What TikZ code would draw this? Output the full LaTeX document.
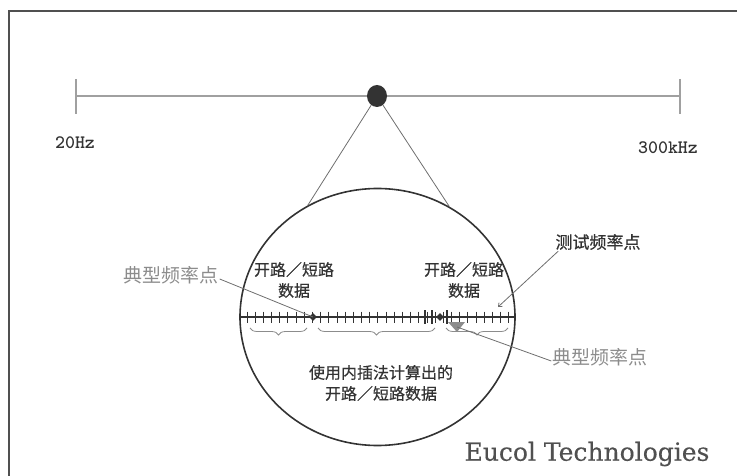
\documentclass[tikz,border=0pt]{standalone}
\usepackage{fontspec}
\setmainfont{Liberation Sans}
\newfontfamily\cjk[FakeBold=0.4]{Noto Sans CJK SC}
\newfontfamily\cjklight{Noto Sans CJK SC}
\newfontfamily\slab[FakeBold=0.3]{DejaVu Serif}
\usetikzlibrary{arrows.meta,positioning,calc,shapes.geometric,
  decorations.pathreplacing}
\definecolor{inkdark}{HTML}{333333}
\definecolor{inkmid}{HTML}{6E6E6E}
\definecolor{inklight}{HTML}{8C8C8C}
\definecolor{bandgray}{HTML}{A0A0A0}
\definecolor{framegray}{HTML}{505050}
\tikzset{
  % rahmen + band
  frame/.style={draw=framegray,line width=2.6pt},
  band/.style={draw=bandgray,line width=1.3pt},
  hz/.style={font=\ttfamily\bfseries\fontsize{19}{20}\selectfont,text=inkdark},
  probe/.style={ellipse,fill=inkdark,inner sep=0pt,minimum width=20pt,
                minimum height=22pt},
  ray/.style={draw=inkmid,line width=0.8pt},
  % lupe
  lens/.style={ellipse,draw=inkdark,line width=1.6pt,inner sep=0pt,
               minimum width=275pt,minimum height=257pt},
  axisline/.style={draw=inkdark,line width=2.4pt},
  tk/.style={draw=inkdark,line width=0.9pt},
  tkbig/.style={draw=inkdark,line width=1.6pt},
  fdot/.style={diamond,fill=inkdark,inner sep=0pt,minimum size=8pt},
  brc/.style={draw=inklight,line width=0.8pt,
              decorate,decoration={brace,mirror,amplitude=7pt}},
  % texte
  cjklabel/.style={font=\cjk\fontsize{16}{21}\selectfont,text=inkdark,
                   align=center,inner sep=1pt},
  typlabel/.style={font=\cjklight\fontsize{19}{20}\selectfont,text=inklight,
                   inner sep=1pt},
  testlabel/.style={font=\cjk\fontsize{17}{18}\selectfont,text=inkdark,
                    inner sep=1pt},
  typline/.style={draw=inkmid,line width=0.8pt},
  brand/.style={font=\slab\fontsize{25}{27}\selectfont,text=framegray},
}
\begin{document}
\begin{tikzpicture}[x=1pt,y=-1pt]
  \useasboundingbox (0,0) rectangle (737,476);
  \draw[frame] (9,476) -- (9,11) -- (737,11);

  % frequenzband oben
  \coordinate (lo) at (76,96);
  \coordinate (hi) at (680,96);
  \draw[band] (lo) -- (hi);
  \draw[band] ($(lo)+(0,-17)$) -- ($(lo)+(0,18)$);
  \draw[band] ($(hi)+(0,-17)$) -- ($(hi)+(0,18)$);
  \node[hz] (f20) at (75,143) {20Hz};
  \node[hz] (f300) at (668,148) {300kHz};

  \node[lens] (lens) at (377.5,317) {};
  \node[probe] (probe) at (377,96) {};
  \draw[ray] (probe) -- (lens.122.5);
  \draw[ray] (probe) -- (lens.57.5);

  % achse in der lupe
  \draw[axisline] (lens.west) -- (lens.east);
  \foreach \k in {0,...,32}
    \draw[tk] ({247+8.18*\k},311.5) -- ({247+8.18*\k},322.5);
  \foreach \x in {425,432,447}
    \draw[tkbig] (\x,310) -- (\x,324);
  \node[fdot] (typa) at (313,317) {};
  \node[fdot] (typb) at (440,317) {};
  \coordinate (testpt) at (498,307);

  \draw[brc] (250,328) -- (307,328);
  \draw[brc] (318,328) -- (435,328);
  \draw[brc] (446,328) -- (508,328);

  \node[cjklabel] (oc1) at (294,280) {开路／短路\\数据};
  \node[cjklabel] (oc2) at (464,280) {开路／短路\\数据};
  \node[cjklabel] (interp) at (381,383) {使用内插法计算出的\\开路／短路数据};

  \node[typlabel] (typl) at (171,275) {典型频率点};
  \node[typlabel] (typr) at (600,357) {典型频率点};
  \node[testlabel] (testl) at (598,242) {测试频率点};

  \draw[typline] ([yshift=-4pt]typl.east) -- (typa.center);
  \coordinate (typbmark) at (457,327);
  \fill[inklight] (448,322) -- (465,322) -- (457,332) -- cycle;
  \draw[typline] ([yshift=-4pt]typr.west) -- (typbmark);
  \draw[typline,-{Straight Barb[length=3pt,width=5pt]}]
    ([xshift=4pt]testl.south west) -- (testpt);

  \node[brand] (brand) at (587,454) {Eucol Technologies};
\end{tikzpicture}
\end{document}
